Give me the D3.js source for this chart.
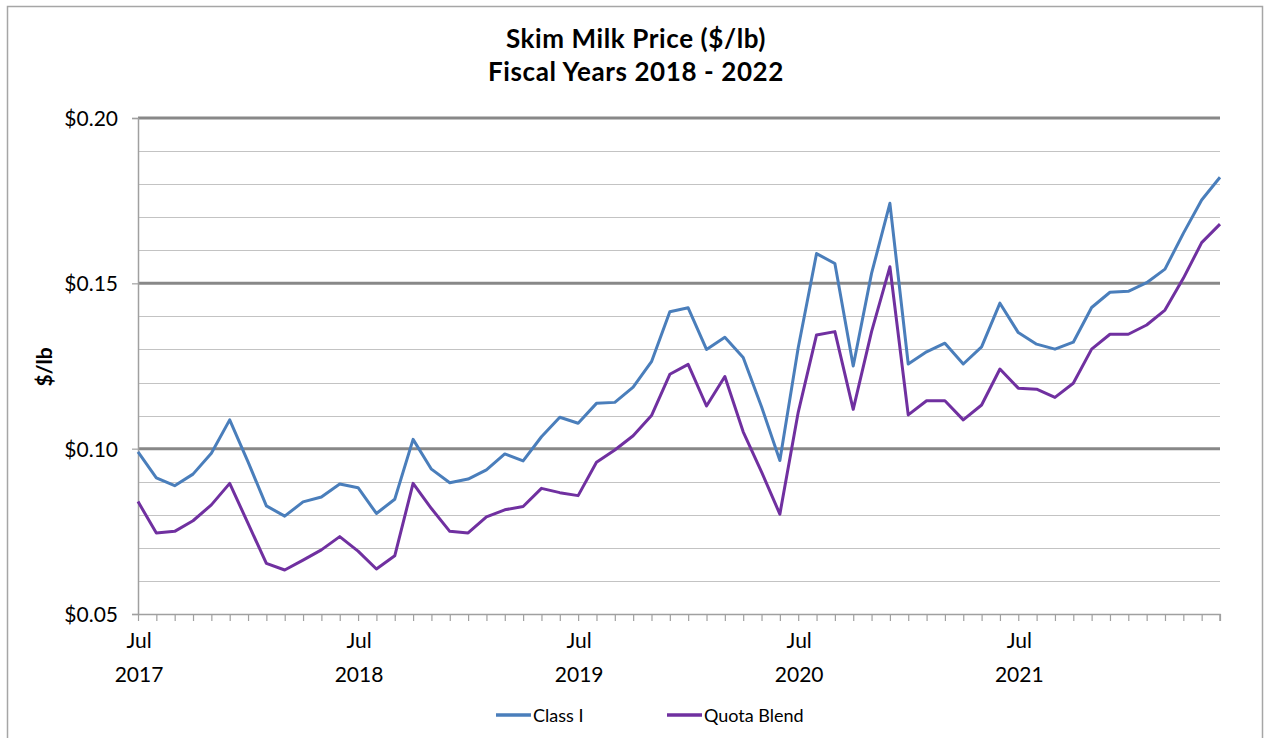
<!DOCTYPE html>
<html><head><meta charset="utf-8">
<script src="https://cdn.jsdelivr.net/npm/d3@7"></script>
<style>
html,body{margin:0;padding:0;background:#fff;}
svg{display:block;font-family:Lato,"Liberation Sans",sans-serif;}
</style></head>
<body>
<svg id="chart" width="1265" height="738"></svg>
<script>
const months = [
 "2017-07","2017-08","2017-09","2017-10","2017-11","2017-12","2018-01","2018-02","2018-03","2018-04","2018-05","2018-06",
 "2018-07","2018-08","2018-09","2018-10","2018-11","2018-12","2019-01","2019-02","2019-03","2019-04","2019-05","2019-06",
 "2019-07","2019-08","2019-09","2019-10","2019-11","2019-12","2020-01","2020-02","2020-03","2020-04","2020-05","2020-06",
 "2020-07","2020-08","2020-09","2020-10","2020-11","2020-12","2021-01","2021-02","2021-03","2021-04","2021-05","2021-06",
 "2021-07","2021-08","2021-09","2021-10","2021-11","2021-12","2022-01","2022-02","2022-03","2022-04","2022-05","2022-06"];
const classI = [
 0.0990,0.0912,0.0888,0.0923,0.0986,0.1087,0.0960,0.0827,0.0796,0.0839,0.0854,0.0893,
 0.0882,0.0804,0.0847,0.1028,0.0938,0.0897,0.0908,0.0936,0.0984,0.0963,0.1036,0.1095,
 0.1077,0.1137,0.1140,0.1186,0.1263,0.1414,0.1426,0.1300,0.1337,0.1276,0.1127,0.0964,
 0.1305,0.1590,0.1560,0.1250,0.1530,0.1742,0.1256,0.1293,0.1319,0.1256,0.1308,0.1440,
 0.1351,0.1316,0.1301,0.1322,0.1427,0.1473,0.1476,0.1502,0.1543,0.1651,0.1752,0.1821];
const quotaBlend = [
 0.0840,0.0745,0.0750,0.0782,0.0830,0.0895,0.0774,0.0653,0.0633,0.0663,0.0694,0.0734,
 0.0690,0.0636,0.0676,0.0895,0.0819,0.0750,0.0745,0.0794,0.0815,0.0825,0.0880,0.0867,
 0.0858,0.0959,0.0996,0.1039,0.1100,0.1225,0.1255,0.1129,0.1218,0.1051,0.0930,0.0802,
 0.1110,0.1344,0.1354,0.1119,0.1354,0.1550,0.1102,0.1145,0.1145,0.1087,0.1132,0.1241,
 0.1183,0.1180,0.1155,0.1198,0.1301,0.1346,0.1346,0.1374,0.1419,0.1515,0.1623,0.1679];
const yTicks = [0.05,0.10,0.15,0.20];
const yMinor = [0.06,0.07,0.08,0.09,0.11,0.12,0.13,0.14,0.16,0.17,0.18,0.19];
const xLabelMonths = ["2017-07","2018-07","2019-07","2020-07","2021-07"];
const seriesNames = ["Class I","Quota Blend"];
const seriesColors = ["#4A7EBB","#7030A0"];
const titleLines = ["Skim Milk Price ($/lb)","Fiscal Years 2018 - 2022"];
const yTitle = "$/lb";

const svg = d3.select("#chart");
const L = 138, R = 1220, T = 118, B = 614;

// outer border
svg.append("rect").attr("x",7.5).attr("y",6.5).attr("width",1255).attr("height",760)
  .attr("fill","none").attr("stroke","#a6a6a6").attr("stroke-width",1.5);

const x = d3.scalePoint().domain(months).range([L,R]);
const y = d3.scaleLinear().domain([0.05,0.20]).range([B,T]);

// minor gridlines
svg.append("g").selectAll("line").data(yMinor).join("line")
  .attr("x1",L).attr("x2",R).attr("y1",d=>Math.round(y(d))+0.5).attr("y2",d=>Math.round(y(d))+0.5)
  .attr("stroke","#c3c3c3").attr("stroke-width",1.2);
// major gridlines
svg.append("g").selectAll("line").data(yTicks.filter(d=>d>0.05)).join("line")
  .attr("x1",L).attr("x2",R).attr("y1",d=>y(d)).attr("y2",d=>y(d))
  .attr("stroke","#888888").attr("stroke-width",3);

// y axis
const yAxis = d3.axisLeft(y).tickValues(yTicks).tickSize(6).tickFormat(d3.format("$.2f"));
const gy = svg.append("g").attr("transform",`translate(${L},0)`).call(yAxis);
gy.select(".domain").attr("stroke","#a0a0a0").attr("stroke-width",1.5);
gy.selectAll(".tick line").attr("stroke","#a0a0a0").attr("stroke-width",1.2);
gy.selectAll(".tick text").attr("font-size",21).attr("fill","#000").attr("x",-20).attr("dy","0.36em")
  .attr("font-family","Lato,'Liberation Sans',sans-serif");

// x axis
const xAxis = d3.axisBottom(x).tickSize(7).tickFormat("");
const gx = svg.append("g").attr("transform",`translate(0,${B})`).call(xAxis);
gx.select(".domain").attr("stroke","#a0a0a0").attr("stroke-width",1.5).attr("d",`M${L},0.5H${R}V7`);
gx.selectAll(".tick line").attr("stroke","#a0a0a0").attr("stroke-width",1.2);
const xl = svg.append("g");
xl.selectAll("text.m").data(xLabelMonths).join("text").attr("class","m")
  .attr("x",d=>x(d)+1).attr("y",648).attr("text-anchor","middle").attr("font-size",21).text("Jul");
xl.selectAll("text.yr").data(xLabelMonths).join("text").attr("class","yr")
  .attr("x",d=>x(d)+1).attr("y",682).attr("text-anchor","middle").attr("font-size",21).text(d=>d.slice(0,4));

// y title
svg.append("text").attr("transform","translate(52,367) rotate(-90)").attr("text-anchor","middle")
  .attr("font-size",21).attr("font-weight","bold").text(yTitle);

// title
svg.append("g").selectAll("text").data(titleLines).join("text")
  .attr("x",636).attr("y",(d,i)=>48+i*33).attr("text-anchor","middle")
  .attr("font-size",26).attr("letter-spacing",0.6).attr("font-weight","bold").text(d=>d);

// lines
const line = d3.line().x((d,i)=>x(months[i])).y(d=>y(d));
[classI,quotaBlend].forEach((s,k)=>{
  svg.append("path").datum(s).attr("d",line).attr("fill","none")
    .attr("stroke",seriesColors[k]).attr("stroke-width",3).attr("stroke-linejoin","round");
});

// legend
const legX = [496,667];
const lg = svg.append("g");
seriesNames.forEach((n,k)=>{
  lg.append("line").attr("x1",legX[k]).attr("x2",legX[k]+35).attr("y1",715).attr("y2",715)
    .attr("stroke",seriesColors[k]).attr("stroke-width",3.5);
  lg.append("text").attr("x",legX[k]+37).attr("y",721.5).attr("font-size",18).text(n);
});
</script>
</body></html>
